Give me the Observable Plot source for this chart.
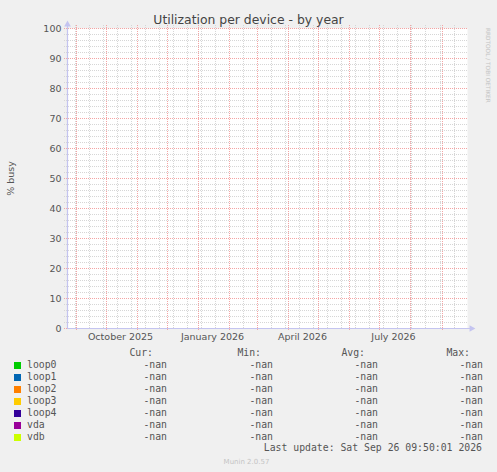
<!DOCTYPE html>
<html><head><meta charset="utf-8">
<script src="https://cdn.jsdelivr.net/npm/d3@7"></script>
<script src="https://cdn.jsdelivr.net/npm/@observablehq/plot@0.6"></script>
<style>
html,body{margin:0;padding:0;background:#f0f0f0;}
#wrap{position:relative;width:497px;height:472px;overflow:hidden;font-family:"DejaVu Sans",sans-serif;}
#wrap svg{position:absolute;left:0;top:0;}
.t{position:absolute;white-space:pre;line-height:12px;}
.mono{font-family:"DejaVu Sans Mono",monospace;font-size:9.8px;color:#555;}
.sw{position:absolute;width:7px;height:7px;}
</style></head><body><div id="wrap"></div>
<script>
// ---- data ----
const title = "Utilization per device - by year";
const yLabel = "% busy";
const series = ["loop0","loop1","loop2","loop3","loop4","vda","vdb"];
const colors = ["#00cc00","#0066b3","#ff8000","#ffcc00","#330099","#990099","#ccff00"];
const curVals = ["-nan","-nan","-nan","-nan","-nan","-nan","-nan"];
const minVals = ["-nan","-nan","-nan","-nan","-nan","-nan","-nan"];
const avgVals = ["-nan","-nan","-nan","-nan","-nan","-nan","-nan"];
const maxVals = ["-nan","-nan","-nan","-nan","-nan","-nan","-nan"];
const colHeaders = ["Cur:","Min:","Avg:","Max:"];
const yTicks = [0,10,20,30,40,50,60,70,80,90,100];
const yMinor = d3.range(0, 101, 2);
const xLabelDates = [new Date(2025,9,15), new Date(2026,0,15), new Date(2026,3,15), new Date(2026,6,15)];
const endTime = new Date(2026,8,26,9,50,1);
const startTime = d3.timeDay.offset(endTime, -399);
const monthLines = d3.timeMonth.range(startTime, endTime);
const minorLines = d3.timeDay.range(new Date(2025,7,31), endTime, 14);
const lastUpdate = "Last update: Sat Sep 26 09:50:01 2026";
const watermark = "Munin 2.0.57";
const sideText = "RRDTOOL / TOBI OETIKER";

// ---- chart ----
const wrap = document.getElementById("wrap");
const axisCol = "#c4c4f0";
const minorCol = "#d6d6d6";
const majorCol = "#f4a4a4";
const plot = Plot.plot({
  width: 497, height: 345,
  marginLeft: 67, marginRight: 30, marginTop: 28, marginBottom: 17,
  style: {background: "transparent", fontFamily: "DejaVu Sans, sans-serif", color: "#555", overflow: "visible"},
  x: {type: "time", domain: [startTime, endTime], round: true},
  y: {domain: [0, 100], round: true},
  marks: [
    Plot.frame({fill: "white", stroke: null}),
    Plot.ruleY(yMinor, {stroke: minorCol, strokeDasharray: "1,1", insetLeft: -3, shapeRendering: "crispEdges"}),
    Plot.ruleX(minorLines, {stroke: minorCol, strokeDasharray: "1,1", insetTop: -3, shapeRendering: "crispEdges"}),
    Plot.ruleY(yTicks, {stroke: majorCol, strokeDasharray: "1,1", insetLeft: -3, shapeRendering: "crispEdges"}),
    Plot.ruleX(monthLines, {stroke: majorCol, strokeDasharray: "1,1", insetTop: -3, insetBottom: -3, shapeRendering: "crispEdges"}),
    Plot.axisY({ticks: yTicks, tickSize: 0, tickPadding: 6, fontSize: 9.5,
      label: yLabel, labelAnchor: "center", labelArrow: "none", labelOffset: 60}),
    Plot.axisX({ticks: xLabelDates, tickFormat: d3.timeFormat("%B %Y"), tickSize: 0, tickPadding: 5, fontSize: 9.5, label: null}),
    Plot.ruleX([startTime], {stroke: axisCol, strokeWidth: 1.2, insetTop: -3}),
    Plot.ruleY([0], {stroke: axisCol, strokeWidth: 1.2, insetRight: -3}),
    Plot.dot([startTime], {x: d => d, y: () => 100, symbol: "triangle", r: 2.5, fill: axisCol, stroke: null, dy: -4}),
    Plot.dot([endTime], {x: d => d, y: () => 0, symbol: "triangle", r: 2.5, fill: axisCol, stroke: null, rotate: 90, dx: 4})
  ]
});
wrap.appendChild(plot);

function addText(txt, cls, css) {
  const d = document.createElement("div");
  d.className = "t " + (cls || "");
  d.textContent = txt;
  Object.assign(d.style, css);
  wrap.appendChild(d);
  return d;
}
// title
addText(title, "", {left: "0px", width: "497px", textAlign: "center", top: "14px", fontSize: "12.4px", color: "#444"});
// side text
addText(sideText, "", {left: "484px", top: "28px", fontSize: "5.8px", color: "#c4c4c4", writingMode: "vertical-rl", lineHeight: "8px"});

// legend
const valRight = [167, 273, 378, 483];
const hdrRight = [153, 261, 365, 470];
const cols = [curVals, minVals, avgVals, maxVals];
colHeaders.forEach((h, j) => addText(h, "mono", {right: (497 - hdrRight[j]) + "px", top: (353 - 6) + "px"}));
series.forEach((s, i) => {
  const cy = 365 + i * 12;
  const sw = document.createElement("div");
  sw.className = "sw";
  Object.assign(sw.style, {left: "14px", top: (cy - 3.5) + "px", background: colors[i]});
  wrap.appendChild(sw);
  addText(s, "mono", {left: "27px", top: (cy - 6) + "px"});
  cols.forEach((c, j) => addText(c[i], "mono", {right: (497 - valRight[j]) + "px", top: (cy - 6) + "px"}));
});
addText(lastUpdate, "mono", {right: (497 - 482) + "px", top: (448 - 6) + "px"});
addText(watermark, "", {left: "0px", width: "493px", textAlign: "center", top: (462 - 6) + "px", fontSize: "7px", color: "#c4c4c4"});
</script></body></html>
